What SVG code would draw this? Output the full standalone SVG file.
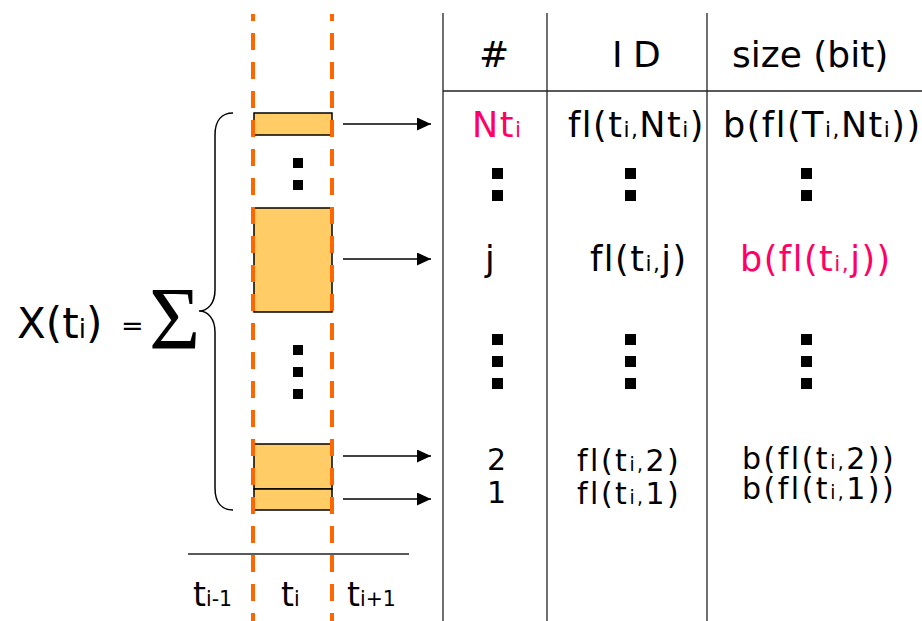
<svg xmlns="http://www.w3.org/2000/svg" width="922" height="621" viewBox="0 0 922 621">
<style>
text{font-family:"DejaVu Sans","Liberation Sans",sans-serif;fill:#000;}
.h{font-size:36px;}
.t{font-size:35px;letter-spacing:1.5px;}
.m{font-size:30px;letter-spacing:2.5px;}
.a{font-size:33px;}
.s{font-size:62%;}
.pk{fill:#FF0066;}
.box{fill:#FFCC66;stroke:#000;stroke-width:1.5;}
.dash{stroke:#FF6600;stroke-width:4;stroke-dasharray:17 12;fill:none;}
.grid{stroke:#222;stroke-width:1.3;fill:none;}
.arr{stroke:#000;stroke-width:1.3;fill:none;marker-end:url(#ah);}
.dot{fill:#000;}
</style>
<defs>
<marker id="ah" markerWidth="14" markerHeight="13" refX="14" refY="6.5" orient="auto" markerUnits="userSpaceOnUse">
<path d="M0,0 L14,6.5 L0,13 Z" fill="#000"/>
</marker>
</defs>
<rect width="922" height="621" fill="#fff"/>

<g id="table-grid">
<line class="grid" x1="443" y1="13" x2="443" y2="621"/>
<line class="grid" x1="547" y1="13" x2="547" y2="621"/>
<line class="grid" x1="707" y1="13" x2="707" y2="621"/>
<line class="grid" x1="443" y1="91" x2="922" y2="91"/>
</g>

<g id="time-axis">
<line class="grid" x1="188" y1="554" x2="409" y2="554"/>
<text class="a" x="193" y="606">t<tspan class="s">i-1</tspan></text>
<text class="a" x="281" y="606">t<tspan class="s">i</tspan></text>
<text class="a" x="347" y="606">t<tspan class="s">i+1</tspan></text>
</g>

<g id="blocks">
<rect class="box" x="254" y="113" width="78" height="22"/>
<rect class="box" x="254" y="208" width="78" height="104"/>
<rect class="box" x="254" y="444" width="78" height="45"/>
<rect class="box" x="254" y="489" width="78" height="21"/>
<rect class="dot" x="293" y="158" width="10" height="10"/>
<rect class="dot" x="293" y="180" width="10" height="10"/>
<rect class="dot" x="293" y="345" width="10" height="10"/>
<rect class="dot" x="293" y="367" width="10" height="10"/>
<rect class="dot" x="293" y="389" width="10" height="10"/>
</g>

<g id="dashes">
<line class="dash" x1="253" y1="14" x2="253" y2="621" stroke-dashoffset="10"/>
<line class="dash" x1="332" y1="14" x2="332" y2="621" stroke-dashoffset="10"/>
</g>

<g id="formula">
<text x="17" y="338" style="font-size:42px">X(t<tspan class="s">i</tspan>)</text>
<text x="121" y="335" style="font-size:27px">=</text>
<text x="149" y="348" style="font-family:'Liberation Serif',serif;font-size:88px">Σ</text>
<path d="M233,113 C222,113 215,120 215,135 L215,290 C215,303 208,311 199,311 C208,311 215,319 215,332 L215,488 C215,503 222,510 233,510" fill="none" stroke="#000" stroke-width="1.5"/>
</g>

<g id="connectors">
<line class="arr" x1="343" y1="124" x2="431" y2="124"/>
<line class="arr" x1="343" y1="259" x2="431" y2="259"/>
<line class="arr" x1="343" y1="456" x2="431" y2="456"/>
<line class="arr" x1="343" y1="499" x2="431" y2="499"/>
</g>

<g id="header">
<text class="h" x="479" y="67">#</text>
<text class="h" x="612" y="67">I <tspan x="633">D</tspan></text>
<text class="h" x="732" y="67">size (bit)</text>
</g>

<g id="row-Nt">
<text class="t pk" x="472" y="137">Nt<tspan class="s">i</tspan></text>
<text class="t" x="568" y="137">fl(t<tspan class="s">i,</tspan>Nt<tspan class="s">i</tspan>)</text>
<text class="t" x="723" y="137">b(fl(T<tspan class="s">i,</tspan>Nt<tspan class="s">i</tspan>))</text>
</g>

<g id="dots-1">
<rect class="dot" x="492" y="168" width="11" height="11"/>
<rect class="dot" x="492" y="190" width="11" height="11"/>
<rect class="dot" x="625" y="168" width="11" height="11"/>
<rect class="dot" x="625" y="190" width="11" height="11"/>
<rect class="dot" x="801" y="168" width="11" height="11"/>
<rect class="dot" x="801" y="190" width="11" height="11"/>
</g>

<g id="row-j">
<text class="t" x="485" y="271">j</text>
<text class="t" x="590" y="271">fl(t<tspan class="s">i,</tspan>j)</text>
<text class="t pk" x="740" y="271">b(fl(t<tspan class="s">i,</tspan>j))</text>
</g>

<g id="dots-2">
<rect class="dot" x="492" y="334" width="11" height="11"/>
<rect class="dot" x="492" y="356" width="11" height="11"/>
<rect class="dot" x="492" y="378" width="11" height="11"/>
<rect class="dot" x="625" y="334" width="11" height="11"/>
<rect class="dot" x="625" y="356" width="11" height="11"/>
<rect class="dot" x="625" y="378" width="11" height="11"/>
<rect class="dot" x="801" y="334" width="11" height="11"/>
<rect class="dot" x="801" y="356" width="11" height="11"/>
<rect class="dot" x="801" y="378" width="11" height="11"/>
</g>

<g id="row-2">
<text class="m" x="487" y="470">2</text>
<text class="m" x="577" y="471">fl(t<tspan class="s">i,</tspan>2)</text>
<text class="m" x="742" y="469">b(fl(t<tspan class="s">i,</tspan>2))</text>
</g>

<g id="row-1">
<text class="m" x="487" y="503">1</text>
<text class="m" x="577" y="504">fl(t<tspan class="s">i,</tspan>1)</text>
<text class="m" x="742" y="499">b(fl(t<tspan class="s">i,</tspan>1))</text>
</g>
</svg>
